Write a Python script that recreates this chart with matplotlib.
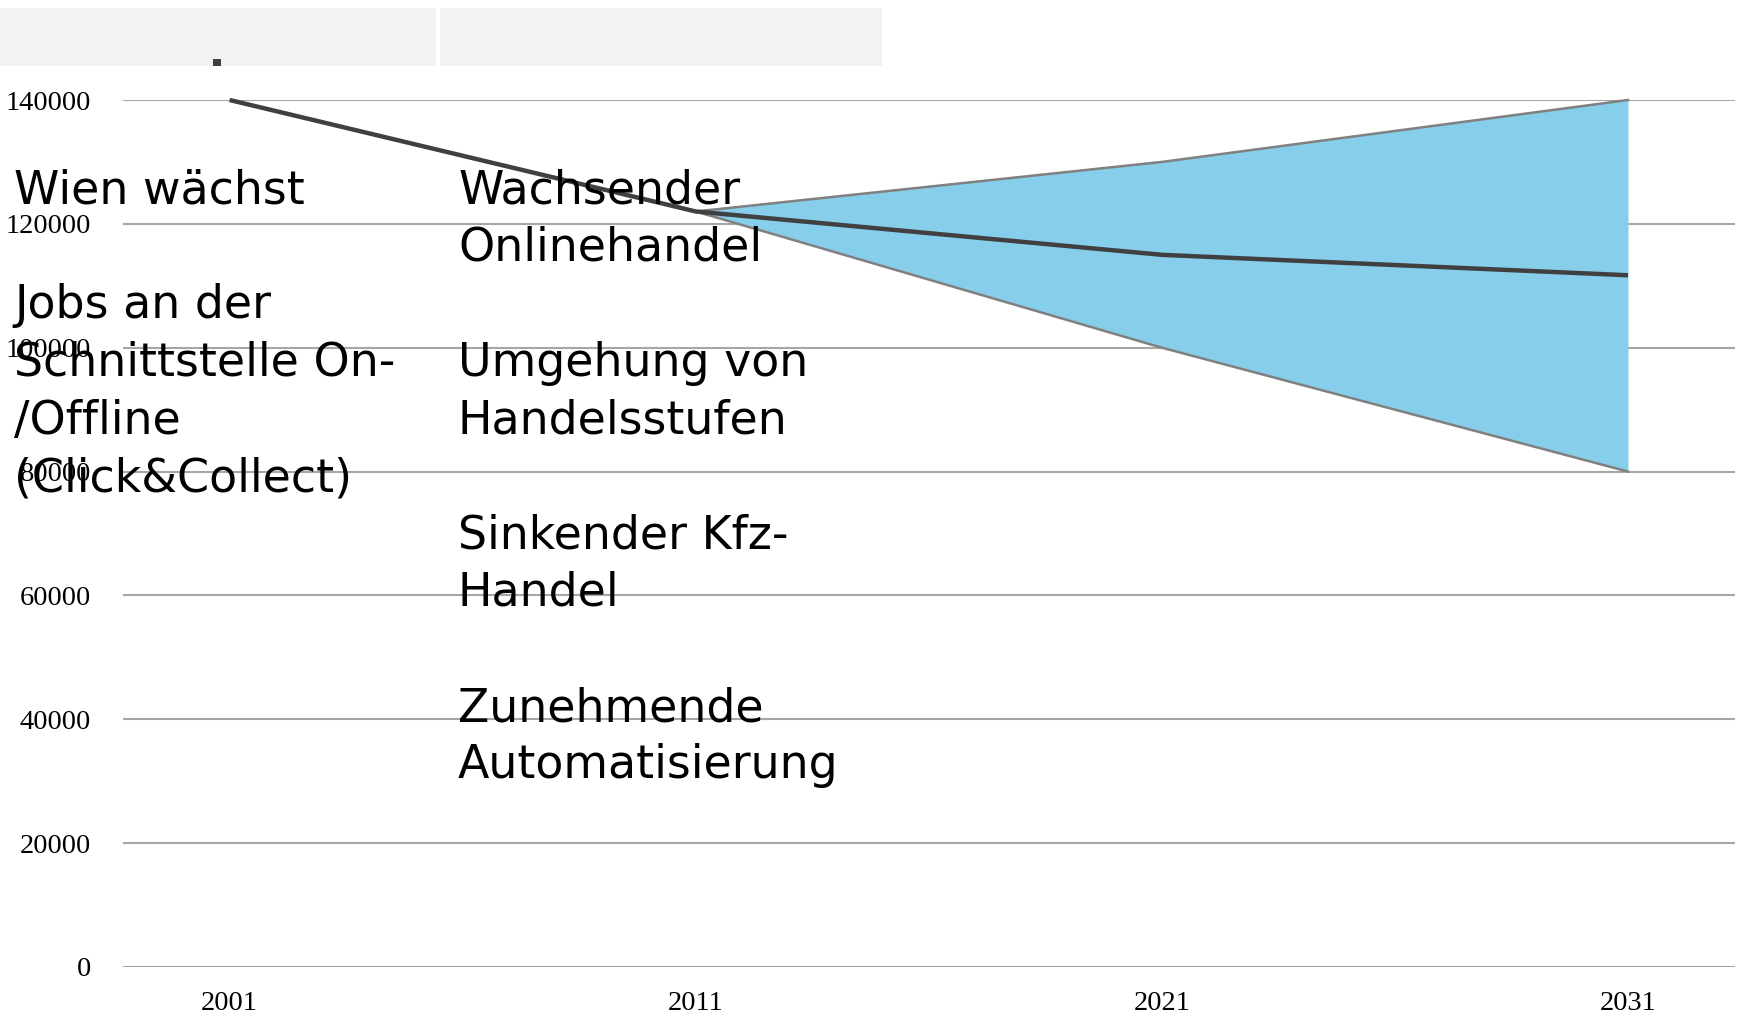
import matplotlib
matplotlib.use("Agg")
import matplotlib.pyplot as plt
from matplotlib.patches import Rectangle

# ---- data ----
years = [2001, 2011, 2021, 2031]
year_labels = ["2001", "2011", "2021", "2031"]
main_values = [140000, 122000, 115000, 111700]
band_years = [2011, 2021, 2031]
band_upper = [122000, 130000, 140000]
band_lower = [122000, 100000, 80000]
y_ticks = [0, 20000, 40000, 60000, 80000, 100000, 120000, 140000]
left_lines = ["Wien wächst", "", "Jobs an der", "Schnittstelle On-", "/Offline", "(Click&Collect)"]
right_lines = ["Wachsender", "Onlinehandel", "", "Umgehung von", "Handelsstufen", "",
               "Sinkender Kfz-", "Handel", "", "Zunehmende", "Automatisierung"]

W, H = 1739, 1015
fig = plt.figure(figsize=(W / 100, H / 100), dpi=100)
fig.patch.set_facecolor("white")

# top grey boxes
for x0, x1 in [(0, 436), (440, 882)]:
    fig.patches.append(Rectangle((x0 / W, 1 - 66 / H), (x1 - x0) / W, 58 / H,
                                 transform=fig.transFigure, facecolor="#f2f2f2",
                                 edgecolor="none", zorder=0))
fig.patches.append(Rectangle((213 / W, 1 - 66 / H), 8 / W, 7 / H,
                             transform=fig.transFigure, facecolor="#404040",
                             edgecolor="none", zorder=1))

left, right, top, bottom = 123, 1735, 100, 967
ax = fig.add_axes([left / W, 1 - bottom / H, (right - left) / W, (bottom - top) / H])
ax.set_facecolor("none")
px_per_year = (1628 - 229.6) / 30
ax.set_xlim(2001 - (229.6 - left) / px_per_year, 2031 + (right - 1628) / px_per_year)
ax.set_ylim(0, 140000)

for s in ax.spines.values():
    s.set_visible(False)
ax.set_yticks(y_ticks)
ax.set_yticklabels([str(v) for v in y_ticks], fontfamily="Liberation Serif", fontsize=20.5)
ax.set_xticks(years)
ax.set_xticklabels(year_labels, fontfamily="Liberation Serif", fontsize=20.5)
ax.tick_params(axis="y", length=0, pad=23)
ax.tick_params(axis="x", length=0, pad=17)
ax.yaxis.grid(True, color="#a6a6a6", linewidth=1.5, zorder=0)
ax.set_axisbelow(True)

ax.fill_between(band_years, band_lower, band_upper, color="#87ceeb", linewidth=0, zorder=2)
ax.plot(band_years, band_upper, color="#808080", linewidth=1.8, zorder=3, clip_on=False)
ax.plot(band_years, band_lower, color="#808080", linewidth=1.8, zorder=3, clip_on=False)
ax.plot(years, main_values, color="#404040", linewidth=3.2, zorder=4, clip_on=False,
        solid_capstyle="butt")

font = "DejaVu Sans"
step = 57.5
for i, line in enumerate(left_lines):
    if line:
        fig.text(14 / W, 1 - (191 + i * step) / H, line, fontsize=33, family=font,
                 va="center", ha="left", color="black", zorder=10)
for i, line in enumerate(right_lines):
    if line:
        fig.text(458 / W, 1 - (191 + i * step) / H, line, fontsize=33, family=font,
                 va="center", ha="left", color="black", zorder=10)

fig.savefig("out.png", dpi=100)
